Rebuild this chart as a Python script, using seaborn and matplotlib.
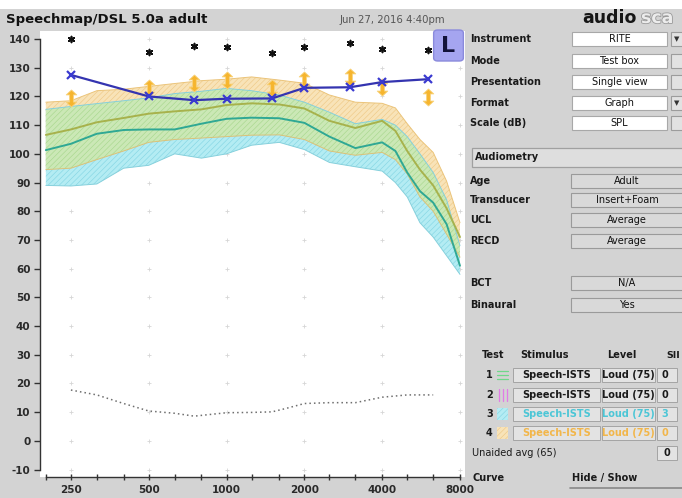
import numpy as np
import pandas as pd
import matplotlib
matplotlib.use('Agg')
import matplotlib.pyplot as plt
import seaborn as sns
from matplotlib.path import Path
from matplotlib.patches import Rectangle, FancyBboxPatch
import matplotlib.patheffects as pe

# Datos (dB SPL)
freqs = [200, 250, 315, 400, 500, 630, 800, 1000, 1250, 1600, 2000, 2500, 3150,
         4000, 4500, 5000, 5600, 6300, 7100, 8000]

t3_upper = [115.5, 116.5, 117.5, 118.5, 119.5, 121, 121.8, 122.8, 122, 120.5, 118, 114.5, 110.5,
            112, 110, 106, 100, 93.5, 84, 68]
t3_mid = [101.3, 103.5, 107, 108.3, 108.5, 108.5, 110.5, 112.2, 112.6, 112.4, 110.8, 106, 102,
          104, 101, 93.5, 87, 83, 75.5, 61]
t3_lower = [89, 88.8, 89.5, 95, 96, 100, 98.5, 100, 103, 104, 101.5, 97, 95.5,
            94, 90, 85, 76, 71, 64.5, 58]

t4_upper = [118, 118.5, 122, 122.5, 123.5, 124.5, 125.5, 126, 126.8, 125.7, 124.6, 120.5, 118,
            117.6, 116, 110.5, 105, 100.5, 90.5, 76]
t4_mid = [106.6, 108.5, 111, 112.5, 114, 114.8, 115.5, 117, 117.6, 117.2, 115.8, 111.5, 109,
          111.5, 108, 101, 94.5, 89, 81, 71]
t4_lower = [94.5, 95, 98, 101, 104, 105, 105.5, 106, 106.5, 106.6, 105, 101, 99.5,
            100.5, 98, 93, 85, 80, 72, 64]

ucl_freqs = [250, 500, 750, 1000, 1500, 2000, 3000, 4000, 6000]
ucl_levels = [127.5, 120, 118.7, 119.2, 119.3, 123, 123.2, 125, 126]
star_levels = [140, 135.6, 137.7, 137.1, 135.2, 137.1, 138.7, 136.5, 136.2]
arrow_levels = [119.3, 122.8, 124.6, 125.7, 122.8, 125.7, 126.9, 123.4, 119.9]

thr_freqs = [250, 315, 400, 500, 630, 750, 1000, 1250, 1500, 1700, 2000, 2500, 3150, 4000, 5000, 6300]
thr_levels = [17.7, 16, 13, 10.4, 9.6, 8.6, 9.8, 9.9, 10.1, 11.3, 13, 13.3, 13.3, 15.2, 16, 16]

oct_freqs = [250, 500, 1000, 2000, 4000, 8000]
third_freqs = [200, 315, 400, 630, 800, 1250, 1600, 2500, 3150, 5000, 6300]
y_ticks = list(range(-10, 150, 10))

# Panel derecho
setting_labels = ['Instrument', 'Mode', 'Presentation', 'Format', 'Scale (dB)']
setting_values = ['RITE', 'Test box', 'Single view', 'Graph', 'SPL']
audio_labels = ['Age', 'Transducer', 'UCL', 'RECD']
audio_values = ['Adult', 'Insert+Foam', 'Average', 'Average']
extra_labels = ['BCT', 'Binaural']
extra_values = ['N/A', 'Yes']
test_ids = ['1', '2', '3', '4']
test_stimulus = ['Speech-ISTS'] * 4
test_level = ['Loud (75)'] * 4
test_sii = ['0', '0', '3', '0']
test_colors = ['#1a1a1a', '#1a1a1a', '#4cc6d6', '#f2b64a']

W, H = 682, 498

sns.set_theme(style='white')
plt.rcParams['font.family'] = ['DejaVu Sans']
plt.rcParams['hatch.linewidth'] = 0.45

fig = plt.figure(figsize=(W / 100, H / 100), dpi=100, facecolor='#d3d3d3')
ax = fig.add_axes([39.5 / W, 1 - 477 / H, (465 - 39.5) / W, (477 - 31) / H])
ax.set_facecolor('white')


def px_rect(x0, y0, x1, y1, **kw):
    r = Rectangle((x0 / W, 1 - y1 / H), (x1 - x0) / W, (y1 - y0) / H,
                  transform=fig.transFigure, **kw)
    fig.add_artist(r)
    return r


def px_text(x, y, s, **kw):
    kw.setdefault('va', 'center')
    kw.setdefault('fontsize', 7)
    kw.setdefault('fontweight', 'bold')
    kw.setdefault('color', '#1a1a1a')
    fig.text(x / W, 1 - y / H, s, **kw)


# franja blanca superior
px_rect(0, 0, W, 9, facecolor='white', edgecolor='none')

# puntos de rejilla
grid_df = pd.DataFrame([(f, l) for f in oct_freqs for l in y_ticks], columns=['f', 'l'])
sns.scatterplot(data=grid_df, x='f', y='l', marker='+', s=10, color='#d6d6d6',
                linewidth=0.6, ax=ax, zorder=1, legend=False)

# bandas
f = np.array(freqs)
u3, l3 = np.array(t3_upper), np.array(t3_lower)
u4, l4 = np.array(t4_upper), np.array(t4_lower)
ax.fill_between(f, l3, u3, facecolor='#b4ecf3', edgecolor='#86d6e4', hatch='//////', linewidth=0, zorder=2)
ax.fill_between(f, l4, u4, facecolor='#f8e3b8', edgecolor='#efc987', hatch='//////', linewidth=0, zorder=2)
lo = np.maximum(l3, l4)
hi = np.minimum(u3, u4)
ax.fill_between(f, lo, hi, where=hi > lo, interpolate=True, facecolor='#cbe8b6',
                edgecolor='#a9d88f', hatch='//////', linewidth=0, zorder=3)

for arr, c in [(u3, '#86d0dc'), (l3, '#86d0dc'), (u4, '#ebc47a'), (l4, '#d9c27a')]:
    ax.plot(f, arr, color=c, linewidth=0.7, zorder=4)

sns.lineplot(x=freqs, y=t4_mid, color='#a7b24c', linewidth=1.4, ax=ax, zorder=5)
sns.lineplot(x=freqs, y=t3_mid, color='#2fa894', linewidth=1.4, ax=ax, zorder=5)

# umbral punteado
sns.lineplot(x=thr_freqs, y=thr_levels, color='#6e6e6e', linewidth=1.1, linestyle=(0, (1, 2.0)),
             ax=ax, zorder=5)

# flechas naranjas
arrow_path = Path([(0, 1), (0.62, 0.42), (0.22, 0.42), (0.22, -0.42), (0.62, -0.42), (0, -1),
                   (-0.62, -0.42), (-0.22, -0.42), (-0.22, 0.42), (-0.62, 0.42), (0, 1)],
                  [Path.MOVETO] + [Path.LINETO] * 9 + [Path.CLOSEPOLY])
ax.scatter(ucl_freqs, arrow_levels, marker=arrow_path, s=150, facecolor='#f6b52e',
           edgecolor='#f8d27a', linewidth=0.6, zorder=6)

# linea UCL azul
sns.lineplot(x=ucl_freqs, y=ucl_levels, color='#3434b0', linewidth=1.6, marker='x',
             markersize=6, markeredgewidth=1.6, markeredgecolor='#3a3ad0', ax=ax, zorder=7)

# asteriscos
ax.scatter(ucl_freqs, star_levels, marker=(6, 2, 0), s=18, color='#111111', linewidth=1.2, zorder=7)

ax.set_xscale('log', base=2)
ax.set_xlim(189, 8365)
ax.set_ylim(-12.6, 142.8)
ax.set_xticks(oct_freqs)
ax.set_xticklabels([str(v) for v in oct_freqs])
ax.set_xticks(third_freqs, minor=True)
ax.set_xticklabels([], minor=True)
ax.set_yticks(y_ticks)
ax.set_yticklabels([str(v) for v in y_ticks])
for s in ['top', 'right']:
    ax.spines[s].set_visible(False)
for s in ['left', 'bottom']:
    ax.spines[s].set_color('#333333')
    ax.spines[s].set_linewidth(1.0)
ax.spines['left'].set_bounds(-10, 140)
ax.spines['bottom'].set_bounds(200, 8000)
ax.tick_params(axis='y', which='major', direction='out', length=4.5, width=1, color='#333333',
               labelsize=7.5, labelcolor='#2a2a2a', pad=2, left=True)
ax.tick_params(axis='x', which='both', direction='inout', length=5, width=1, color='#333333',
               labelsize=7.5, labelcolor='#2a2a2a', pad=3.5, bottom=True)
for lab in ax.get_yticklabels() + ax.get_xticklabels():
    lab.set_fontweight('bold')
ax.set_xlabel('')
ax.set_ylabel('')
ax.grid(False)

# titulo y fecha
px_text(6, 19, 'Speechmap/DSL 5.0a adult', fontsize=9.5, color='#111111')
px_text(340, 20, 'Jun 27, 2016 4:40pm', fontsize=7.3, fontweight='normal', color='#555555')

# caja L
fig.add_artist(FancyBboxPatch((435 / W, 1 - 60 / H), 27 / W, 29 / H,
                              boxstyle='round,pad=0.002,rounding_size=0.006',
                              transform=fig.transFigure, facecolor='#a5a5f0', edgecolor='#8a8adc',
                              linewidth=1, zorder=10))
px_text(448.5, 46, 'L', fontsize=16, color='#12123a', ha='center', zorder=11)

# logo (cortado en el borde como en la captura)
px_text(582, 18, 'audio', fontsize=12.5, color='#161616')
fig.text(641 / W, 1 - 18 / H, 'sca', fontsize=12.5, fontweight='bold', color='#ececec', va='center',
         path_effects=[pe.withStroke(linewidth=1.2, foreground='#9a9a9a')])

# ajustes
set_y = [39, 61, 82, 103, 123]
for lab, val, y in zip(setting_labels, setting_values, set_y):
    px_text(470, y, lab)
    px_rect(572, y - 7, 667, y + 7, facecolor='white', edgecolor='#a8a8a8', linewidth=0.8)
    px_text(619.5, y, val, ha='center', fontweight='normal', color='#111111')
    px_rect(671, y - 7, 684, y + 7, facecolor='#e2e2e2', edgecolor='#9c9c9c', linewidth=0.8)
for y in [set_y[0], set_y[3]]:
    px_text(677, y, '\u25bc', fontsize=5, fontweight='normal', ha='center', color='#333333')

# audiometria
px_rect(472, 148, 684, 167, facecolor='#dedede', edgecolor='#a0a0a0', linewidth=0.9)
px_text(475, 157.5, 'Audiometry')
aud_y = [181, 200, 220, 241]
for lab, val, y in zip(audio_labels, audio_values, aud_y):
    px_text(470, y, lab)
    px_rect(571, y - 7, 684, y + 7, facecolor='#d9d9d9', edgecolor='#9a9a9a', linewidth=0.8)
    px_text(627, y, val, ha='center', fontweight='normal', color='#111111')
ext_y = [283, 305]
for lab, val, y in zip(extra_labels, extra_values, ext_y):
    px_text(470, y, lab)
    px_rect(571, y - 7, 684, y + 7, facecolor='#d9d9d9', edgecolor='#9a9a9a', linewidth=0.8)
    px_text(627, y, val, ha='center', fontweight='normal', color='#111111')

# tabla de pruebas
px_text(482, 355, 'Test')
px_text(520, 355, 'Stimulus')
px_text(607, 355, 'Level')
px_text(666, 355, 'SII', fontsize=6.8)
row_y = [375, 395, 414, 433]
for i, (tid, stim, lev, sii, c, y) in enumerate(zip(test_ids, test_stimulus, test_level, test_sii,
                                                     test_colors, row_y)):
    px_text(486, y, tid)
    px_rect(513, y - 7, 600, y + 7, facecolor='#e3e3e3', edgecolor='#a4a4a4', linewidth=0.7)
    px_rect(602, y - 7, 655, y + 7, facecolor='#e3e3e3', edgecolor='#a4a4a4', linewidth=0.7)
    px_rect(657, y - 7, 677, y + 7, facecolor='#e3e3e3', edgecolor='#a4a4a4', linewidth=0.7)
    px_text(556.5, y, stim, ha='center', color=c)
    px_text(628.5, y, lev, ha='center', color=c)
    px_text(665, y, sii, ha='center', color=c)
# simbolos de leyenda
for yy in [371, 375, 379]:
    fig.add_artist(plt.Line2D([497 / W, 508 / W], [1 - yy / H] * 2, color='#6fd88a', linewidth=0.9))
for xx in [499, 503, 507]:
    fig.add_artist(plt.Line2D([xx / W] * 2, [1 - 389 / H, 1 - 401 / H], color='#e27be6', linewidth=0.9))
px_rect(497, 408, 508, 420, facecolor='#b4ecf3', edgecolor='#86d6e4', hatch='//////', linewidth=0)
px_rect(497, 427, 508, 439, facecolor='#f8e3b8', edgecolor='#efc987', hatch='//////', linewidth=0)

px_text(472, 453, 'Unaided avg (65)', fontweight='normal')
px_rect(657, 446, 677, 460, facecolor='#e3e3e3', edgecolor='#a4a4a4', linewidth=0.7)
px_text(667, 453, '0', ha='center')

px_text(472, 478, 'Curve')
px_text(572, 478, 'Hide / Show')
fig.add_artist(plt.Line2D([570 / W, 684 / W], [1 - 488 / H] * 2, color='#888888', linewidth=1.2))

fig.savefig('out.png', dpi=100, facecolor=fig.get_facecolor())
